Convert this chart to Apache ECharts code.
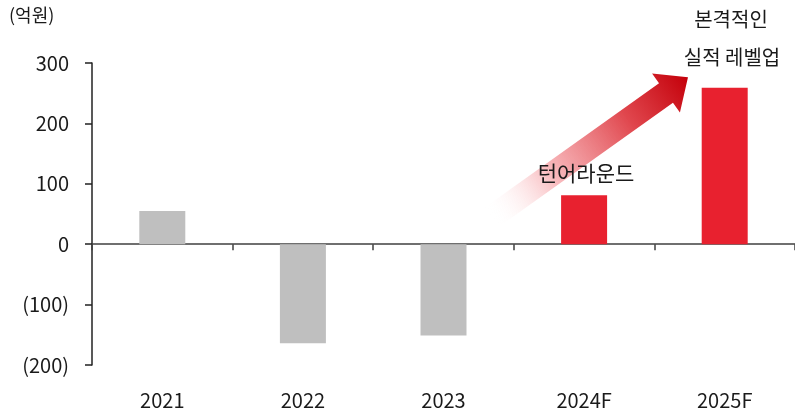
<!DOCTYPE html>
<html>
<head>
<meta charset="utf-8">
<script src="https://cdn.jsdelivr.net/npm/echarts@6/dist/echarts.min.js"></script>
<style>
  html, body { margin: 0; padding: 0; background: #fff; }
  #chart { width: 795px; height: 412px; }
</style>
</head>
<body>
<div id="chart"></div>
<script>
// 데이터
const categories = ['2021', '2022', '2023', '2024F', '2025F'];
const values = [55, -164, -151, 81, 259];
const barColors = ['#bfbfbf', '#bfbfbf', '#bfbfbf', '#e8212f', '#e8212f'];
const yTicks = [-200, -100, 0, 100, 200, 300];

const FONT = '"Noto Sans CJK KR", "Noto Sans", sans-serif';

var chartDom = document.getElementById('chart');
var myChart = echarts.init(chartDom);

// 화살표 (턴어라운드 -> 실적 레벨업)
function arrowPoints() {
    const S = [492, 217];
    const B = [666, 93];
    const len = Math.hypot(B[0] - S[0], B[1] - S[1]);
    const u = [(B[0] - S[0]) / len, (B[1] - S[1]) / len];
    const n = [-u[1], u[0]];
    const w = 12, h = 24, hl = 27;
    const T = [B[0] + u[0] * hl, B[1] + u[1] * hl];
    const p = (a, k) => [a[0] + n[0] * k, a[1] + n[1] * k];
    return {
        pts: [p(S, w), p(B, w), p(B, h), T, p(B, -h), p(B, -w), p(S, -w)],
        S: S, T: T
    };
}
const arrow = arrowPoints();

var option = {
    animation: false,
    grid: { left: 92, top: 63, width: 705, height: 302 },
    xAxis: [
        {
            type: 'category',
            data: categories,
            axisLine: { onZero: true, lineStyle: { color: '#404040', width: 1.5 } },
            axisTick: { show: true, length: 6, lineStyle: { color: '#404040', width: 1.5 } },
            axisLabel: { show: false }
        },
        {
            type: 'category',
            data: categories,
            position: 'bottom',
            axisLine: { show: false, onZero: false },
            axisTick: { show: false },
            axisLabel: { color: '#1a1a1a', fontSize: 20, fontFamily: FONT, margin: 25 }
        }
    ],
    yAxis: {
        type: 'value',
        min: yTicks[0],
        max: yTicks[yTicks.length - 1],
        interval: 100,
        axisLine: { show: true, lineStyle: { color: '#222', width: 1.5 } },
        axisTick: { show: true, length: 7, lineStyle: { color: '#222', width: 1.5 } },
        splitLine: { show: false },
        axisLabel: {
            color: '#1a1a1a', fontSize: 20, fontFamily: FONT, margin: 23,
            formatter: v => v < 0 ? '(' + Math.abs(v) + ')' : String(v)
        }
    },
    series: [
        {
            type: 'bar',
            xAxisIndex: 0,
            barWidth: 46,
            data: values.map((v, i) => ({ value: v, itemStyle: { color: barColors[i] } }))
        }
    ],
    graphic: [
        {
            type: 'polygon',
            z: 10,
            shape: { points: arrow.pts },
            style: {
                fill: new echarts.graphic.LinearGradient(arrow.S[0], arrow.S[1], arrow.T[0], arrow.T[1], [
                    { offset: 0, color: 'rgba(255,255,255,0)' },
                    { offset: 0.3, color: 'rgba(248,180,184,0.9)' },
                    { offset: 0.7, color: '#e0464d' },
                    { offset: 1, color: '#c4000a' }
                ], true)
            }
        },
        {
            type: 'text', left: 9, top: 6, z: 20,
            style: { text: '(억원)', fontSize: 18, fontFamily: FONT, fill: '#1a1a1a' }
        },
        {
            type: 'text', x: 586, y: 173, z: 20,
            style: { text: '턴어라운드', fontSize: 21, fontFamily: FONT, fill: '#1a1a1a', align: 'center', verticalAlign: 'middle' }
        },
        {
            type: 'text', x: 731, y: 19, z: 20,
            style: { text: '본격적인', fontSize: 20, fontFamily: FONT, fill: '#1a1a1a', align: 'center', verticalAlign: 'middle' }
        },
        {
            type: 'text', x: 732, y: 57, z: 20,
            style: { text: '실적 레벨업', fontSize: 20, fontFamily: FONT, fill: '#1a1a1a', align: 'center', verticalAlign: 'middle' }
        }
    ]
};

option && myChart.setOption(option);
</script>
</body>
</html>
